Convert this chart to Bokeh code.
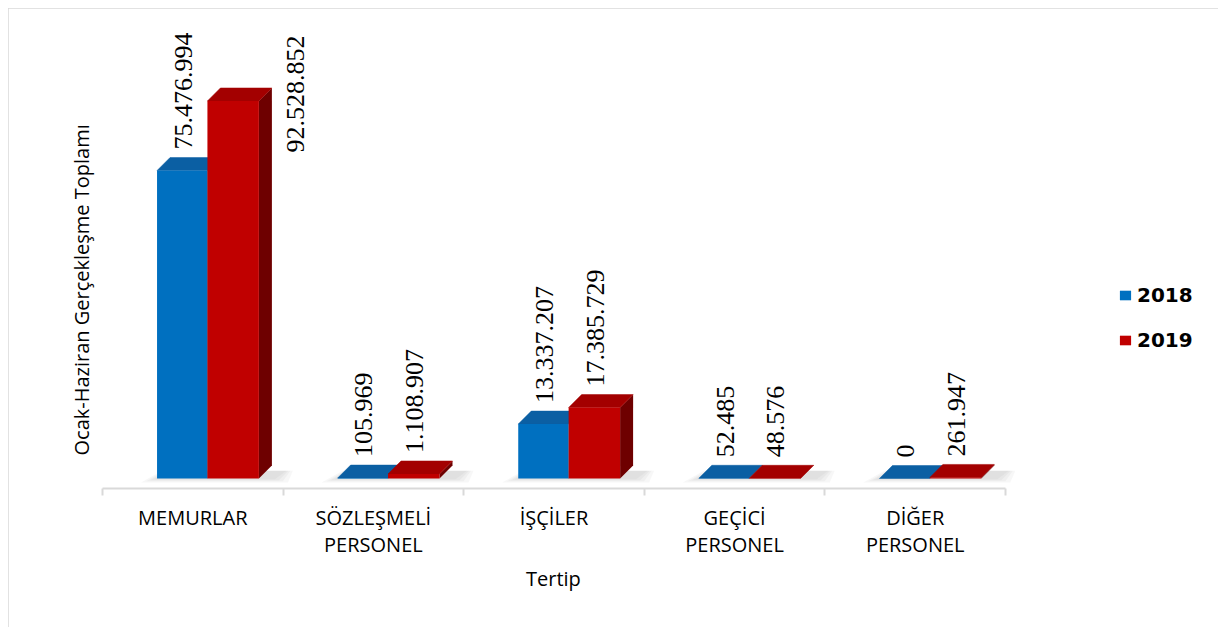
import math
from bokeh.plotting import figure
from bokeh.models import FixedTicker, Title, Legend, LegendItem, ColumnDataSource, Range1d
from bokeh.embed import file_html
from bokeh.resources import INLINE

# ---------------- data ----------------
categories = ["MEMURLAR", "SÖZLEŞMELİ\nPERSONEL", "İŞÇİLER", "GEÇİCİ\nPERSONEL", "DİĞER\nPERSONEL"]
years = ["2018", "2019"]
v2018 = [75476994, 105969, 13337207, 52485, 0]
v2019 = [92528852, 1108907, 17385729, 48576, 261947]
y_title = "Ocak-Haziran Gerçekleşme Toplamı"
x_title = "Tertip"

# ---------------- layout / style ----------------
W, H = 1210, 619
FRAME_L, FRAME_R = 94, 8
FRAME_T, FRAME_B = 4, 139
frame_w = W - FRAME_L - FRAME_R
frame_h = H - FRAME_T - FRAME_B
PX_CAT = 180.6
ZERO_FROM_BOTTOM = 10          # px between axis line and zero level
PX_VAL = 4.08 / 1e6            # px per value unit

x_end = frame_w / PX_CAT
y_start = -ZERO_FROM_BOTTOM / PX_VAL
y_end = (frame_h - ZERO_FROM_BOTTOM) / PX_VAL

DX = 13 / PX_CAT               # depth offset in x units
DY = 13 / PX_VAL               # depth offset in value units
OFF_L, OFF_M, OFF_R = 0.302, 0.581, 0.866

BLUE_FRONT, BLUE_TOP, BLUE_SIDE = "#0070C0", "#0B5FA3", "#004A80"
RED_FRONT, RED_TOP, RED_SIDE = "#C00000", "#A30000", "#6E0000"

p = figure(width=W, height=H, output_backend="svg", toolbar_location=None,
           x_range=Range1d(0, x_end), y_range=Range1d(y_start, y_end),
           y_axis_location=None, min_border_left=FRAME_L, min_border_right=FRAME_R,
           min_border_top=FRAME_T, min_border_bottom=FRAME_B,
           background_fill_color="white", border_fill_color="white",
           styles={"margin": "8px 0 0 8px", "outline": "1px solid #D9D9D9",
                   "outline-offset": "-1px"})
p.outline_line_color = None
p.grid.visible = False

# floor shadows
for i in range(len(categories)):
    x0 = i + OFF_L
    x1 = i + OFF_R + DX
    for e in [16, 11, 7, 3]:
        ex = e / PX_CAT
        ey = e * 0.25 / PX_VAL
        xs = [x0 - ex, x1 + ex, x1 + DX + ex * 0.5, x0 + DX - ex * 0.5]
        ys = [-ey, -ey, DY * 0.6, DY * 0.6]
        p.patch(xs, ys, fill_color="#707070", fill_alpha=0.06, line_color=None)


def draw_series(vals, left, right, front, top, side):
    side_xs, side_ys, top_xs, top_ys = [], [], [], []
    for i, v in enumerate(vals):
        x0, x1 = i + left, i + right
        side_xs.append([x1, x1 + DX, x1 + DX, x1])
        side_ys.append([0, DY, v + DY, v])
        top_xs.append([x0, x1, x1 + DX, x0 + DX])
        top_ys.append([v, v, v + DY, v + DY])
    p.patches(side_xs, side_ys, fill_color=side, line_color=None)
    p.patches(top_xs, top_ys, fill_color=top, line_color=top, line_width=0.5)
    src = ColumnDataSource(dict(x=[i + (left + right) / 2 for i in range(len(vals))], top=vals))
    return p.vbar(x="x", width=right - left, top="top", bottom=0, source=src,
                  fill_color=front, line_color=None)


r18 = draw_series(v2018, OFF_L, OFF_M, BLUE_FRONT, BLUE_TOP, BLUE_SIDE)
r19 = draw_series(v2019, OFF_M, OFF_R, RED_FRONT, RED_TOP, RED_SIDE)

# data labels (placed beside the bar when they would not fit above it)
LABEL_PX = 12.5
LIMIT_PX = 480 - 20            # usable height above zero level (reference plot area)
norm = dict(x=[], y=[], t=[])
side = dict(x=[], y=[], t=[])
for vals, left, right in [(v2018, OFF_L, OFF_M), (v2019, OFF_M, OFF_R)]:
    for i, v in enumerate(vals):
        t = f"{v:,}".replace(",", ".")
        top_px = v * PX_VAL + 21 + len(t) * LABEL_PX
        if top_px > LIMIT_PX:
            side["x"].append(i + right + DX + 24 / PX_CAT)
            side["y"].append(y_end)
            side["t"].append(t)
        else:
            norm["x"].append(i + (left + right) / 2 + 1 / PX_CAT)
            norm["y"].append(v)
            norm["t"].append(t)

LBL_FONT = dict(text_font="Liberation Sans", text_font_size="26px", text_color="black")
p.text(x="x", y="y", text="t", source=ColumnDataSource(norm), angle=math.pi / 2,
       text_align="left", text_baseline="middle", y_offset=-21, **LBL_FONT)
p.text(x="x", y="y", text="t", source=ColumnDataSource(side), angle=math.pi / 2,
       text_align="right", text_baseline="middle", y_offset=23, **LBL_FONT)

# x axis
ax = p.xaxis[0]
ax.ticker = FixedTicker(ticks=[i + 0.5 for i in range(len(categories))],
                        minor_ticks=list(range(len(categories) + 1)))
ax.major_label_overrides = {i + 0.5: c for i, c in enumerate(categories)}
ax.bounds = (0, len(categories))
ax.axis_line_color = "#D9D9D9"
ax.axis_line_width = 2
ax.major_tick_line_color = None
ax.major_tick_out = 0
ax.major_tick_in = 0
ax.minor_tick_line_color = "#D9D9D9"
ax.minor_tick_line_width = 2
ax.minor_tick_out = 7
ax.minor_tick_in = 0
ax.major_label_standoff = 8
ax.major_label_text_font = "Open Sans"
ax.major_label_text_font_size = "20px"
ax.major_label_text_color = "black"
ax.major_label_text_line_height = 1.0

# titles
yt = Title(text=y_title, align="left", offset=33, standoff=16,
           text_font="Open Sans", text_font_size="20px", text_font_style="normal",
           text_color="black")
p.add_layout(yt, "left")
TERTIP_W = 56
xt = Title(text=x_title, align="left", offset=len(categories) * PX_CAT / 2 - TERTIP_W / 2,
           standoff=4, text_font="Open Sans", text_font_size="20px",
           text_font_style="normal", text_color="black")
p.add_layout(xt, "below")

# legend
legend = Legend(items=[LegendItem(label=years[0], renderers=[r18]),
                       LegendItem(label=years[1], renderers=[r19])],
                location=(1016, 136), padding=0, margin=0, spacing=21,
                glyph_width=14, glyph_height=12, label_height=22, label_standoff=5,
                label_text_font="DejaVu Sans", label_text_font_size="20px",
                label_text_font_style="bold",
                label_text_color="black", border_line_color=None,
                background_fill_alpha=0)
p.add_layout(legend)

open("out.html", "w").write(file_html(p, INLINE))
